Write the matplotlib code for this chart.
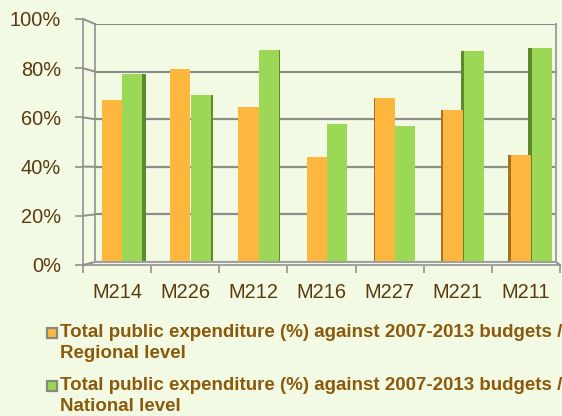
import matplotlib
matplotlib.use("Agg")
import matplotlib.pyplot as plt
from matplotlib.lines import Line2D
from matplotlib.patches import Rectangle
import numpy as np

categories = ["M214", "M226", "M212", "M216", "M227", "M221", "M211"]
regional = [68, 81, 65, 44, 69, 64, 45]
national = [79, 70, 89, 58, 57, 88.5, 90]
series_labels = [
    ["Total public expenditure (%) against 2007-2013 budgets /", "Regional level"],
    ["Total public expenditure (%) against 2007-2013 budgets /", "National level"],
]
yticks = [0, 20, 40, 60, 80, 100]

W, H = 562, 416
BG = "#F2FAE3"
ORANGE = "#FDB73E"
ORANGE_DARK = "#A8701E"
GREEN = "#9AD856"
GREEN_DARK = "#5C8A2C"
GRID = "#8E8E8E"
TXT = "#5A3A10"
LEG = "#8B5A0C"

plt.rcParams["font.family"] = ["Liberation Sans", "DejaVu Sans"]
fig = plt.figure(figsize=(W / 100, H / 100), dpi=100, facecolor=BG)

def fx(px):
    return px / W

def fy(py):
    return 1 - py / H

# back wall axes
bl, br, bt, bb = 95, 556, 24, 262
ax = fig.add_axes([fx(bl), fy(bb), fx(br - bl), (bb - bt) / H])
ax.set_facecolor(BG)
x = np.arange(len(categories))
ax.set_xlim(-0.396, 6.36)
ax.set_ylim(0, 100)
ax.set_yticks(yticks)
ax.yaxis.grid(True, color=GRID, lw=1.6)
ax.set_axisbelow(True)
ax.tick_params(left=False, bottom=False, labelleft=False, labelbottom=False)
for s in ["top", "bottom"]:
    ax.spines[s].set_visible(False)
for s in ["left", "right"]:
    ax.spines[s].set_color("#A0A0A0")
    ax.spines[s].set_linewidth(1.4)

bw = 0.295
side = 0.05
off_o = -0.147
off_g = 0.152
for i in range(len(categories)):
    d = (i - 3) / 3.0
    if d < 0:
        ax.bar(x[i] + off_g + bw / 2, national[i], width=side * (-d), align="edge",
               color=GREEN_DARK, zorder=2)
    elif d > 0:
        ax.bar(x[i] + off_g - bw / 2, national[i], width=-side * d, align="edge",
               color=GREEN_DARK, zorder=2)
        ax.bar(x[i] + off_o - bw / 2, regional[i], width=-side * d, align="edge",
               color=ORANGE_DARK, zorder=2)
ax.bar(x + off_o, regional, width=bw, color=ORANGE, zorder=3)
ax.bar(x + off_g, national, width=bw, color=GREEN, zorder=3)

# front axis
fl, fr, ft, fb = 83, 560, 19, 265
ax2 = fig.add_axes([fx(fl), fy(fb), fx(fr - fl), (fb - ft) / H])
ax2.patch.set_visible(False)
ax2.set_ylim(0, 100)
ax2.set_xlim(-0.5, -0.5 + (fr - fl) / 69.0)
for s in ["top", "right"]:
    ax2.spines[s].set_visible(False)
for s in ["left", "bottom"]:
    ax2.spines[s].set_color("#A0A0A0")
    ax2.spines[s].set_linewidth(1.4)
ax2.set_yticks(yticks)
ax2.set_yticklabels([f"{v}%" for v in yticks], fontsize=14.4, color=TXT)
ax2.tick_params(axis="y", direction="out", length=6, width=1.4, color="#A0A0A0", pad=10)
ax2.set_xticks(x)
ax2.set_xticklabels(categories, fontsize=14.4, color=TXT)
ax2.set_xticks(np.arange(len(categories) + 1) - 0.5, minor=True)
ax2.tick_params(axis="x", which="major", length=0, pad=13)
ax2.tick_params(axis="x", which="minor", direction="out", length=6, width=1.4, color="#A0A0A0")

# connectors between front axis and back wall
inv = fig.transFigure.inverted()
for v in yticks:
    p1 = inv.transform(ax2.transData.transform((-0.5, v)))
    p2 = inv.transform(ax.transData.transform((ax.get_xlim()[0], v)))
    fig.add_artist(Line2D([p1[0], p2[0]], [p1[1], p2[1]], color=GRID, lw=1.4))
p1 = inv.transform(ax2.transData.transform((ax2.get_xlim()[1], 0)))
p2 = inv.transform(ax.transData.transform((ax.get_xlim()[1], 0)))
fig.add_artist(Line2D([p1[0], p2[0]], [p1[1], p2[1]], color=GRID, lw=1.4))
fig.add_artist(Line2D([fx(bl), fx(br)], [fy(bb), fy(bb)], color="#A0A0A0", lw=1.4))

# legend
colors = [ORANGE, GREEN]
baselines = [337, 390]
for lines, c, b in zip(series_labels, colors, baselines):
    r = Rectangle((fx(46.5), fy(b + 1)), fx(10.5), 10.5 / H, facecolor=c,
                  edgecolor="#8A8A7A", lw=1.6, transform=fig.transFigure)
    fig.add_artist(r)
    for k, t in enumerate(lines):
        fig.text(fx(60.5), fy(b + 21 * k), t, fontsize=13.5, fontweight="bold", color=LEG,
                 va="baseline", ha="left")

fig.savefig("out.png", dpi=100, facecolor=BG)
